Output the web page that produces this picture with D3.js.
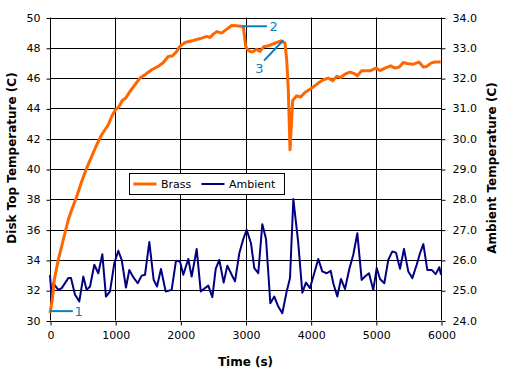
<!DOCTYPE html>
<html>
<head>
<meta charset="utf-8">
<script src="https://cdn.jsdelivr.net/npm/d3@7"></script>
<style>
  body { margin: 0; background: #fff; }
  svg text { font-family: "DejaVu Sans", Verdana, sans-serif; }
</style>
</head>
<body>
<div id="chart"></div>
<script>
// Brass disk top temperature (left axis)
const brassTime = [0, 35, 66, 127, 204, 281, 333, 410, 486, 563, 640, 717, 793, 895, 947, 997,
  1059, 1109, 1162, 1228, 1304, 1381, 1458, 1561, 1662, 1739, 1815, 1883, 1944, 1995,
  2072, 2199, 2328, 2405, 2455, 2506, 2558, 2635, 2712, 2788, 2865, 2942, 2966, 3003,
  3043, 3104, 3172, 3222, 3273, 3350, 3453, 3545, 3606, 3632, 3657, 3683, 3724, 3786,
  3847, 3913, 4016, 4117, 4194, 4271, 4338, 4399, 4461, 4527, 4604, 4680, 4716, 4783,
  4910, 5003, 5064, 5141, 5228, 5294, 5360, 5421, 5498, 5575, 5662, 5729, 5781, 5847,
  5908, 5995];
const brassTemp = [30.5, 31.37, 32.69, 34.0, 35.33, 36.65, 37.31, 38.19, 39.18, 40.06, 40.83,
  41.6, 42.26, 42.92, 43.47, 43.86, 44.13, 44.52, 44.68, 45.12, 45.56, 46.0, 46.22, 46.55,
  46.77, 47.03, 47.43, 47.47, 47.76, 48.11, 48.35, 48.48, 48.64, 48.75, 48.68, 48.9, 49.07,
  48.97, 49.23, 49.47, 49.45, 49.41, 49.41, 48.09, 47.82, 47.72, 47.91, 47.76, 48.05, 48.13,
  48.31, 48.46, 48.31, 47.21, 45.23, 41.27, 44.52, 44.83, 44.75, 45.05, 45.34, 45.67, 45.89,
  46.0, 45.82, 46.11, 46.04, 46.26, 46.4, 46.28, 46.15, 46.48, 46.48, 46.66, 46.5, 46.66,
  46.81, 46.66, 46.73, 47.03, 46.94, 46.92, 47.06, 46.73, 46.77, 46.99, 47.06, 47.06];

// Ambient temperature (right axis)
const ambTime = [0, 26, 51, 127, 180, 281, 322, 384, 450, 511, 563, 614, 680, 741, 803, 859,
  921, 987, 1048, 1100, 1166, 1217, 1278, 1346, 1407, 1458, 1524, 1591, 1642, 1703, 1775,
  1867, 1933, 1995, 2045, 2122, 2174, 2251, 2313, 2378, 2429, 2491, 2543, 2598, 2665, 2721,
  2788, 2839, 2905, 2966, 3018, 3084, 3135, 3196, 3258, 3315, 3381, 3442, 3503, 3565, 3632,
  3683, 3734, 3810, 3872, 3928, 3990, 4117, 4178, 4246, 4307, 4347, 4409, 4465, 4527, 4593,
  4654, 4716, 4783, 4834, 4895, 4961, 5013, 5064, 5130, 5191, 5253, 5309, 5371, 5432, 5498,
  5560, 5627, 5678, 5729, 5790, 5857, 5919, 5974, 6000];
const ambTemp = [25.5, 24.74, 25.23, 25.01, 25.07, 25.4, 25.4, 24.85, 24.63, 25.45, 25.01,
  25.12, 25.84, 25.56, 26.19, 24.79, 24.96, 25.89, 26.3, 26.0, 25.09, 25.67, 25.43, 25.23,
  25.48, 25.51, 26.59, 25.34, 25.12, 25.7, 24.96, 25.01, 25.97, 25.95, 25.51, 26.03, 25.45,
  26.36, 24.96, 25.07, 25.15, 24.77, 25.7, 26.0, 25.25, 25.81, 25.51, 25.29, 26.22, 26.69,
  26.99, 26.55, 25.73, 25.56, 27.18, 26.69, 24.57, 24.79, 24.46, 24.24, 24.96, 25.4, 28.01,
  26.55, 24.92, 25.25, 25.07, 26.03, 25.62, 25.56, 25.64, 25.23, 24.79, 25.37, 25.04, 25.7,
  26.17, 26.88, 25.34, 25.45, 25.56, 25.01, 25.73, 25.37, 25.23, 26.0, 26.28, 26.24, 25.71,
  26.36, 25.62, 25.4, 25.84, 26.22, 26.52, 25.67, 25.67, 25.53, 25.76, 25.51];

const xTicks = [0, 1000, 2000, 3000, 4000, 5000, 6000];
const leftTicks = [30, 32, 34, 36, 38, 40, 42, 44, 46, 48, 50];
const rightTicks = [24, 25, 26, 27, 28, 29, 30, 31, 32, 33, 34];

// callouts: leader line from (t1,v1) to (t2,v2) on left-axis scale, label at (lt,lv)
const callouts = [
  { label: "1", t1: 0, v1: 30.62, t2: 350, v2: 30.62, lt: 440, lv: 30.62 },
  { label: "2", t1: 2950, v1: 49.42, t2: 3330, v2: 49.42, lt: 3430, lv: 49.42 },
  { label: "3", t1: 3580, v1: 48.5, t2: 3285, v2: 47.15, lt: 3215, lv: 46.62 }
];

const W = 506, H = 375;
const plot = { left: 50, right: 441, top: 17.5, bottom: 320.5 };

const svg = d3.select("#chart").append("svg")
  .attr("width", W)
  .attr("height", H);

const x = d3.scaleLinear().domain([0, 6000]).range([plot.left, plot.right]);
const yL = d3.scaleLinear().domain([30, 50]).range([plot.bottom, plot.top]);
const yR = d3.scaleLinear().domain([24, 34]).range([plot.bottom, plot.top]);

// grid
const grid = svg.append("g").attr("stroke", "#000").attr("stroke-width", 1);
grid.selectAll(".hg").data(leftTicks).join("line")
  .attr("x1", plot.left).attr("x2", plot.right)
  .attr("y1", d => Math.round(yL(d)) + 0.5).attr("y2", d => Math.round(yL(d)) + 0.5);
grid.selectAll(".vg").data(xTicks).join("line")
  .attr("y1", plot.top).attr("y2", plot.bottom)
  .attr("x1", d => Math.round(x(d)) + 0.5).attr("x2", d => Math.round(x(d)) + 0.5);

// axes
const fontSize = "11px";
const gx = svg.append("g")
  .attr("transform", `translate(0.5,${Math.round(plot.bottom) + 0.5})`)
  .call(d3.axisBottom(x).tickValues(xTicks).tickSize(4).tickPadding(6).tickFormat(d3.format("d")));
const gl = svg.append("g")
  .attr("transform", `translate(${plot.left + 0.5},0)`)
  .call(d3.axisLeft(yL).tickValues(leftTicks).tickSize(4).tickPadding(6).tickFormat(d3.format("d")));
const gr = svg.append("g")
  .attr("transform", `translate(${plot.right + 0.5},0)`)
  .call(d3.axisRight(yR).tickValues(rightTicks).tickSize(4).tickPadding(7).tickFormat(d3.format(".1f")));

[gx, gl, gr].forEach(g => {
  g.select(".domain").remove();
  g.selectAll(".tick line").attr("stroke", "#000");
  g.selectAll(".tick text").attr("fill", "#000").style("font-size", fontSize)
    .style("font-family", '"DejaVu Sans", Verdana, sans-serif');
});
gl.selectAll(".tick line").attr("transform", "translate(0,0.5)");
gr.selectAll(".tick line").attr("transform", "translate(0,0.5)");

// axis titles
const titleSize = "12px";
svg.append("text")
  .attr("x", (plot.left + plot.right) / 2).attr("y", 366)
  .attr("text-anchor", "middle")
  .style("font-size", titleSize).style("font-weight", "bold")
  .text("Time (s)");
svg.append("text")
  .attr("transform", "translate(16,158) rotate(-90)")
  .attr("text-anchor", "middle")
  .style("font-size", titleSize).style("font-weight", "bold")
  .text("Disk Top Temperature (C)");
svg.append("text")
  .attr("transform", "translate(496,168) rotate(-90)")
  .attr("text-anchor", "middle")
  .style("font-size", titleSize).style("font-weight", "bold")
  .text("Ambient Temperature (C)");

// series
const ambLine = d3.line().x((d, i) => x(ambTime[i])).y(d => yR(d));
svg.append("path")
  .attr("d", ambLine(ambTemp))
  .attr("fill", "none")
  .attr("stroke", "#000080")
  .attr("stroke-width", 2)
  .attr("stroke-linejoin", "round");

const brassLine = d3.line().x((d, i) => x(brassTime[i])).y(d => yL(d));
svg.append("path")
  .attr("d", brassLine(brassTemp))
  .attr("fill", "none")
  .attr("stroke", "#FF6600")
  .attr("stroke-width", 3)
  .attr("stroke-linejoin", "round");

// callouts
const calloutColor = "#0A7FC1";
callouts.forEach(c => {
  svg.append("line")
    .attr("x1", x(c.t1)).attr("y1", yL(c.v1))
    .attr("x2", x(c.t2)).attr("y2", yL(c.v2))
    .attr("stroke", calloutColor).attr("stroke-width", 2);
  svg.append("text")
    .attr("x", x(c.lt)).attr("y", yL(c.lv))
    .attr("dy", "0.36em")
    .attr("text-anchor", "middle")
    .attr("fill", calloutColor)
    .style("font-size", "13px")
    .text(c.label);
});

// legend
const lg = svg.append("g").attr("transform", "translate(129.5,173.5)");
lg.append("rect")
  .attr("width", 155).attr("height", 21)
  .attr("fill", "#fff").attr("stroke", "#000").attr("stroke-width", 1);
const legendItems = [
  { name: "Brass", color: "#FF6600", w: 3, x: 4 },
  { name: "Ambient", color: "#000080", w: 2, x: 72 }
];
legendItems.forEach(it => {
  lg.append("line")
    .attr("x1", it.x).attr("x2", it.x + 23)
    .attr("y1", 10.5).attr("y2", 10.5)
    .attr("stroke", it.color).attr("stroke-width", it.w);
  lg.append("text")
    .attr("x", it.x + 27.5).attr("y", 10.5).attr("dy", "0.36em")
    .style("font-size", fontSize)
    .text(it.name);
});
</script>
</body>
</html>
